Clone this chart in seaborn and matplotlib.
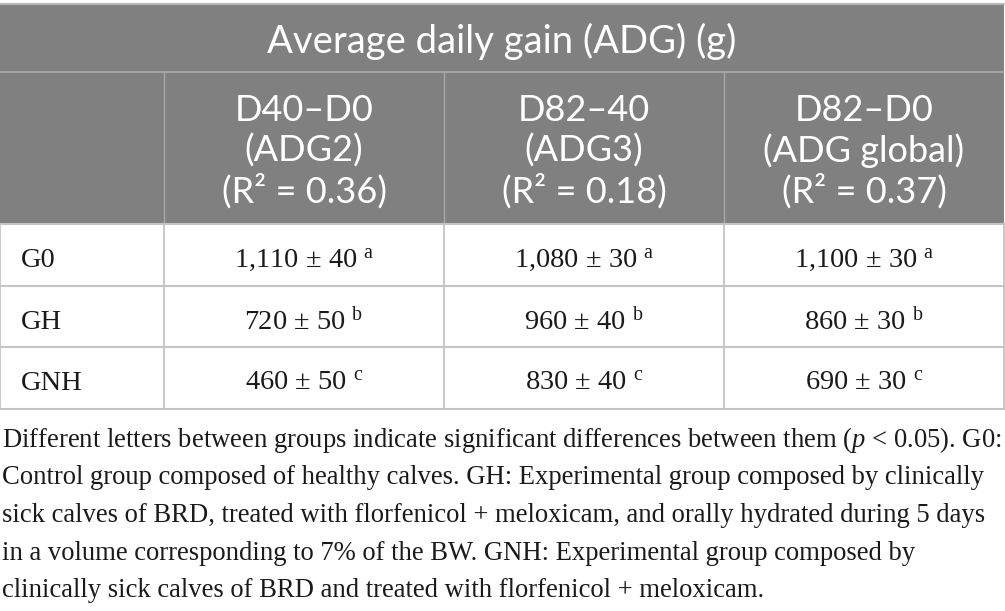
import numpy as np
import pandas as pd
import seaborn as sns
import matplotlib.pyplot as plt
from matplotlib.patches import Rectangle

sns.set_theme(style="white")
plt.rcParams["mathtext.fontset"] = "custom"
plt.rcParams["mathtext.rm"] = "Liberation Serif"
plt.rcParams["mathtext.it"] = "Liberation Serif:italic"

titulo = "Average daily gain (ADG) (g)"
periodos = ["D40–D0", "D82–40", "D82–D0"]
nombres_adg = ["(ADG2)", "(ADG3)", "(ADG global)"]
r2 = [0.36, 0.18, 0.37]
grupos = ["G0", "GH", "GNH"]
media = [[1110, 1080, 1100],
         [720, 960, 860],
         [460, 830, 690]]
error = [[40, 30, 30],
         [50, 40, 30],
         [50, 40, 30]]
letras = ["a", "b", "c"]
nota = [
    "Different letters between groups indicate significant differences between them ($\\mathit{p}$ < 0.05). G0:",
    "Control group composed of healthy calves. GH: Experimental group composed by clinically",
    "sick calves of BRD, treated with florfenicol + meloxicam, and orally hydrated during 5 days",
    "in a volume corresponding to 7% of the BW. GNH: Experimental group composed by",
    "clinically sick calves of BRD and treated with florfenicol + meloxicam.",
]

df = pd.DataFrame({
    "Grupo": np.repeat(grupos, len(periodos)),
    "Periodo": periodos * len(grupos),
    "Media": np.ravel(media),
    "EE": np.ravel(error),
    "Letra": np.repeat(letras, len(periodos)),
})

gris = "#808080"
linea_hdr = "#a8a8a8"
linea = "#c4c4c4"
sans = "Lato"
serif = "Liberation Serif"

col_x = [0, 164, 444, 724, 1004]
fila_y = [4, 72, 224, 286, 347, 409]

fig = plt.figure(figsize=(10.05, 6.11), dpi=100)
ax = fig.add_axes([0, 0, 1, 1])
ax.set_xlim(0, 1005)
ax.set_ylim(611, 0)
ax.axis("off")

# cabecera gris
ax.add_patch(Rectangle((0, fila_y[0]), col_x[-1], fila_y[2] - fila_y[0],
                       facecolor=gris, edgecolor="none"))
ax.plot([0, col_x[-1]], [fila_y[0], fila_y[0]], color="#b8b8b8", lw=1.5)
ax.plot([0, col_x[-1]], [fila_y[1], fila_y[1]], color=linea_hdr, lw=1.3)
for x in col_x[1:-1]:
    ax.plot([x, x], [fila_y[1], fila_y[2]], color=linea_hdr, lw=1.0)

ax.text(502, 53, titulo, ha="center", va="baseline", color="white",
        fontsize=27.5, family=sans)

for j, per in enumerate(periodos):
    cx = (col_x[j + 1] + col_x[j + 2]) / 2
    lineas = [per, nombres_adg[j], f"(R² = {r2[j]:.2f})"]
    for k, t in enumerate(lineas):
        ax.text(cx, 121 + 41 * k, t, ha="center", va="baseline",
                color="white", fontsize=26, family=sans)

# cuerpo
for y in fila_y[2:]:
    ax.plot([0, col_x[-1]], [y, y], color=linea, lw=1.5)
for x in col_x:
    ax.plot([x, x], [fila_y[2], fila_y[-1]], color=linea, lw=1.3)

for i, g in enumerate(grupos):
    base = fila_y[i + 2] + 43
    ax.text(21, base, g, ha="left", va="baseline", color="#1a1a1a",
            fontsize=20.5, family=serif)
    sub = df[df["Grupo"] == g]
    for j, per in enumerate(periodos):
        r = sub[sub["Periodo"] == per].iloc[0]
        cx = (col_x[j + 1] + col_x[j + 2]) / 2
        t = f"{r['Media']:,} ± {r['EE']} $^{{\\mathrm{{{r['Letra']}}}}}$"
        ax.text(cx, base, t, ha="center", va="baseline", color="#1a1a1a",
                fontsize=20.5, family=serif)

# nota al pie
for k, t in enumerate(nota):
    ax.text(2, 447 + 37.5 * k, t, ha="left", va="baseline", color="#1a1a1a",
            fontsize=19.2, family=serif)

fig.savefig("out.png", dpi=100, facecolor="white")
